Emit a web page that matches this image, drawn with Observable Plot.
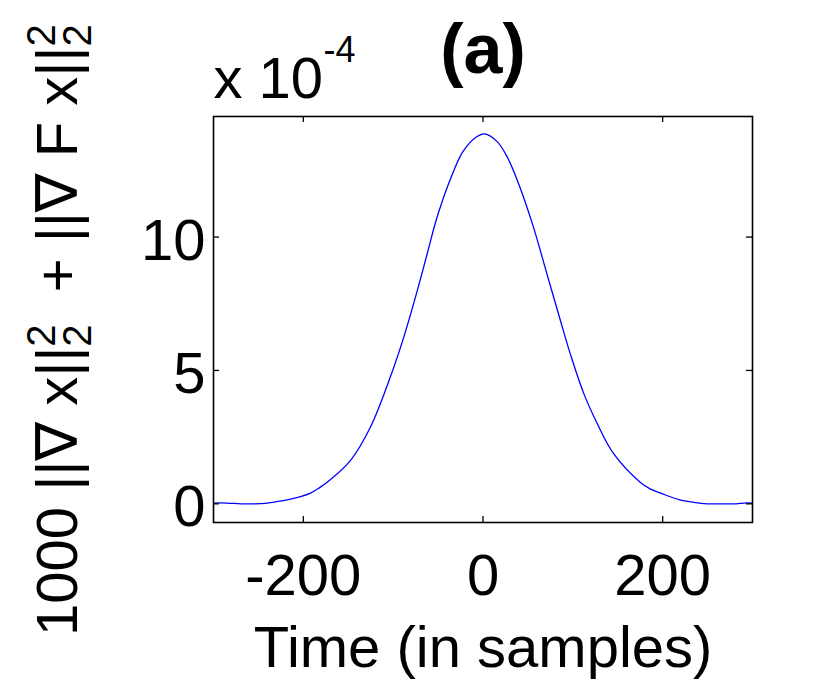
<!DOCTYPE html>
<html>
<head>
<meta charset="utf-8">
<script src="https://cdn.jsdelivr.net/npm/d3@7"></script>
<script src="https://cdn.jsdelivr.net/npm/@observablehq/plot@0.6"></script>
<style>
  html, body { margin: 0; padding: 0; background: #fff; }
  svg { display: block; }
</style>
</head>
<body>
<div id="chart"></div>
<script>
// Time axis (samples) and values (in units of 1e-4)
const timeSamples = [-300, -285, -270, -255, -240, -230, -218, -203, -192, -183, -170, -147, -125, -103, -88, -73, -62, -51, -36, -22, -7, 2, 16, 27, 41, 56, 71, 86, 97, 112, 127, 145, 175, 186, 200, 219, 234, 249, 265, 282, 290, 300];
const energyValues = [0.03, 0.03, 0.0, 0.0, 0.03, 0.08, 0.15, 0.27, 0.40, 0.58, 0.90, 1.65, 2.90, 4.77, 6.27, 8.01, 9.39, 10.76, 12.20, 13.22, 13.76, 13.87, 13.57, 13.00, 11.88, 10.39, 8.64, 6.89, 5.64, 4.15, 3.02, 1.90, 0.81, 0.56, 0.37, 0.15, 0.06, 0.0, 0.0, 0.0, 0.03, 0.03];

const xTicks = [-200, 0, 200];
const xTickLabels = ["-200", "0", "200"];
const yTicks = [0, 5, 10];
const yTickLabels = ["0", "5", "10"];
const xDomain = [-300, 300];
const yDomain = [-0.70, 14.52];

const titleText = "(a)";
const xLabelText = "Time (in samples)";
const exponentBase = "x 10";
const exponentPower = "-4";
const yLabelParts = ["1000 ||\u2207 x||", " + ||\u2207 F x||"];
const yLabelSub = "2";
const yLabelSup = "2";

const W = 832, H = 686;
const mL = 213, mR = 80, mT = 116, mB = 164;
const innerW = W - mL - mR, innerH = H - mT - mB;
const FONT = "'Liberation Sans', Arial, Helvetica, 'DejaVu Sans', sans-serif";

const data = timeSamples.map((t, i) => ({t, v: energyValues[i]}));

const plot = Plot.plot({
  width: W, height: H,
  marginLeft: mL, marginRight: mR, marginTop: mT, marginBottom: mB,
  style: {fontFamily: FONT, background: "white", color: "black"},
  x: {domain: xDomain, axis: null},
  y: {domain: yDomain, axis: null},
  marks: [
    Plot.line(data, {x: "t", y: "v", stroke: "#0000ff", strokeWidth: 1.3, curve: "catmull-rom"}),
    Plot.tickX(xTicks, {x: d => d, insetTop: innerH - 6, stroke: "black", strokeWidth: 1.3}),
    Plot.tickX(xTicks, {x: d => d, insetBottom: innerH - 6, stroke: "black", strokeWidth: 1.3}),
    Plot.tickY(yTicks, {y: d => d, insetRight: innerW - 6, stroke: "black", strokeWidth: 1.3}),
    Plot.tickY(yTicks, {y: d => d, insetLeft: innerW - 6, stroke: "black", strokeWidth: 1.3}),
    Plot.frame({stroke: "black", strokeWidth: 1.6}),
    Plot.text(xTicks, {x: d => d, text: (d, i) => xTickLabels[i], frameAnchor: "bottom", lineAnchor: "top", dy: 31, fontSize: 58, fill: "black"}),
    Plot.text(yTicks, {y: d => d, text: (d, i) => yTickLabels[i], frameAnchor: "left", textAnchor: "end", lineAnchor: "middle", dx: -8, dy: 4, fontSize: 58, fill: "black"}),
    Plot.text([titleText], {text: d => d, frameAnchor: "top", lineAnchor: "top", dy: -93, fontSize: 70, fontWeight: "bold", fill: "black"}),
    Plot.text([xLabelText], {text: d => d, frameAnchor: "bottom", lineAnchor: "top", dy: 103, fontSize: 58, fill: "black"}),
    Plot.text([exponentBase], {text: d => d, frameAnchor: "top-left", textAnchor: "start", lineAnchor: "top", dy: -60, fontSize: 58, fill: "black"}),
    Plot.text([exponentPower], {text: d => d, frameAnchor: "top-left", textAnchor: "start", lineAnchor: "top", dx: 110, dy: -80, fontSize: 36, fill: "black"})
  ]
});

document.getElementById("chart").appendChild(plot);

// Rotated y-axis label with stacked sub/superscripts
const svg = d3.select(plot);
const supW = 0.556 * 40;
const lbl = svg.append("text")
  .attr("transform", "translate(77,636) rotate(-90)")
  .attr("font-family", FONT)
  .attr("font-size", 58)
  .attr("fill", "black")
  .attr("text-anchor", "start");
yLabelParts.forEach((part, i) => {
  lbl.append("tspan").attr("dy", i === 0 ? 0 : 22).attr("dx", i === 0 ? 0 : 16).text(part);
  lbl.append("tspan").attr("font-size", 40).attr("dy", 14).text(yLabelSub);
  lbl.append("tspan").attr("font-size", 40).attr("dx", -supW).attr("dy", -36).text(yLabelSup);
});
</script>
</body>
</html>
